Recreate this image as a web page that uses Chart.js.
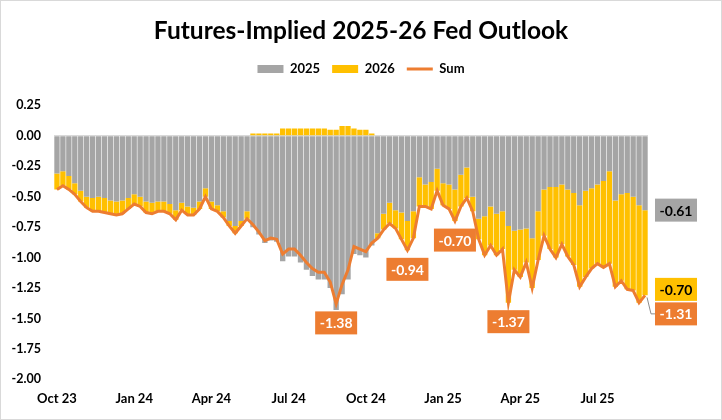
<!DOCTYPE html>
<html>
<head>
<meta charset="utf-8">
<title>Futures-Implied 2025-26 Fed Outlook</title>
<script src="https://cdn.jsdelivr.net/npm/chart.js"></script>
<style>
  html, body { margin: 0; padding: 0; background: #fff; }
  #wrap { width: 722px; height: 420px; }
</style>
</head>
<body>
<div id="wrap"><canvas id="fedChart"></canvas></div>
<script>
// weekly readings, first week = Mon 2 Oct 2023
const startWeek = '2023-10-02';
const tickLabels = ['Oct 23', 'Jan 24', 'Apr 24', 'Jul 24', 'Oct 24', 'Jan 25', 'Apr 25', 'Jul 25'];

// implied cuts priced for 2025 (pct pts)
const cuts2025 = [
  -0.31, -0.29, -0.33, -0.39, -0.45, -0.50, -0.51, -0.50, -0.51, -0.53,
  -0.54, -0.53, -0.51, -0.48, -0.50, -0.54, -0.55, -0.54, -0.54, -0.56,
  -0.61, -0.55, -0.58, -0.59, -0.54, -0.43, -0.54, -0.57, -0.62, -0.70,
  -0.74, -0.70, -0.62, -0.75, -0.81, -0.88, -0.86, -0.87, -1.03, -0.99,
  -0.99, -1.04, -1.10, -1.15, -1.18, -1.18, -1.25, -1.43, -1.30, -1.18,
  -0.97, -0.98, -1.00, -0.90, -0.80, -0.64, -0.55, -0.61, -0.63, -0.70,
  -0.62, -0.34, -0.40, -0.38, -0.27, -0.39, -0.40, -0.44, -0.32, -0.26,
  -0.50, -0.68, -0.66, -0.58, -0.64, -0.62, -0.74, -0.78, -0.77, -0.76,
  -0.84, -0.62, -0.44, -0.42, -0.42, -0.40, -0.44, -0.47, -0.57, -0.45,
  -0.43, -0.40, -0.37, -0.29, -0.53, -0.48, -0.47, -0.50, -0.57, -0.61
];

// implied cuts priced for 2026
const cuts2026 = [
  -0.13, -0.12, -0.11, -0.09, -0.09, -0.09, -0.11, -0.12, -0.12, -0.11,
  -0.11, -0.11, -0.09, -0.08, -0.08, -0.09, -0.09, -0.08, -0.08, -0.08,
  -0.08, -0.06, -0.07, -0.06, -0.06, -0.07, -0.06, -0.05, -0.05, -0.04,
  -0.06, -0.04, -0.06,  0.02,  0.02,  0.02,  0.02,  0.02,  0.06,  0.06,
   0.06,  0.06,  0.06,  0.06,  0.06,  0.06,  0.05,  0.05,  0.08,  0.08,
   0.06,  0.05,  0.05,  0.02, -0.04, -0.13, -0.17, -0.15, -0.22, -0.24,
  -0.22, -0.24, -0.18, -0.22, -0.18, -0.18, -0.20, -0.26, -0.26, -0.25,
  -0.12, -0.17, -0.32, -0.32, -0.34, -0.31, -0.63, -0.32, -0.39, -0.28,
  -0.41, -0.40, -0.38, -0.51, -0.58, -0.49, -0.55, -0.59, -0.67, -0.71,
  -0.66, -0.65, -0.71, -0.76, -0.71, -0.71, -0.79, -0.77, -0.80, -0.70
];

// sum of the two years
const sum = cuts2025.map((v, i) => +(v + cuts2026[i]).toFixed(2));

// weeks that get an orange callout under the line
const calloutWeeks = [47, 59, 67, 76];

const GRAY = '#A5A5A5';
const GOLD = '#FFC000';
const ORANGE = '#ED7D31';

const MONTHS = ['Jan', 'Feb', 'Mar', 'Apr', 'May', 'Jun', 'Jul', 'Aug', 'Sep', 'Oct', 'Nov', 'Dec'];
const t0 = Date.parse(startWeek + 'T00:00:00Z');
const DAY = 86400000;
const weeks = cuts2025.map((_, i) => new Date(t0 + i * 7 * DAY).toISOString().slice(0, 10));

// label a week if a quarter start falls within it
function quarterLabel(i) {
  const d = new Date(t0 + i * 7 * DAY);
  for (let k = -3; k <= 3; k++) {
    const q = new Date(d.getTime() + k * DAY);
    if (q.getUTCDate() === 1 && q.getUTCMonth() % 3 === 0) {
      const txt = MONTHS[q.getUTCMonth()] + ' ' + String(q.getUTCFullYear()).slice(2);
      return tickLabels.includes(txt) ? txt : '';
    }
  }
  return '';
}

const frame = {
  id: 'frame',
  beforeDraw(chart) {
    const ctx = chart.ctx;
    ctx.save();
    ctx.fillStyle = '#fff';
    ctx.fillRect(0, 0, chart.width, chart.height);
    ctx.strokeStyle = '#d9d9d9';
    ctx.lineWidth = 1;
    ctx.strokeRect(0.5, 0.5, chart.width - 1, chart.height - 1);
    ctx.restore();
  }
};

// extra room between the legend and the plot
const legendGap = {
  id: 'legendGap',
  beforeInit(chart) {
    const fit = chart.legend.fit;
    chart.legend.fit = function () {
      fit.call(this);
      this.height += 20;
    };
  }
};

const callouts = {
  id: 'callouts',
  afterDatasetsDraw(chart) {
    const {ctx, chartArea, scales: {y}} = chart;
    const pts = chart.getDatasetMeta(2).data;
    ctx.save();
    ctx.font = 'bold 14px Lato';
    ctx.textAlign = 'center';
    ctx.textBaseline = 'middle';
    const box = (cx, cy, fill, color, text) => {
      ctx.fillStyle = fill;
      ctx.fillRect(cx - 21, cy - 11.5, 42, 23);
      ctx.fillStyle = color;
      ctx.fillText(text, cx, cy + 1);
    };
    calloutWeeks.forEach(i => {
      box(pts[i].x, pts[i].y + 19, ORANGE, '#fff', sum[i].toFixed(2));
    });
    const last = sum.length - 1;
    const lx = chartArea.right + 28;
    const sy = pts[last].y;
    ctx.strokeStyle = '#8c8c8c';
    ctx.lineWidth = 1;
    ctx.beginPath();
    ctx.moveTo(pts[last].x + 2, sy + 2);
    ctx.lineTo(chartArea.right + 3, sy + 18.5);
    ctx.lineTo(lx - 21, sy + 18.5);
    ctx.stroke();
    box(lx, y.getPixelForValue(cuts2025[last]), GRAY, '#000', cuts2025[last].toFixed(2));
    box(lx, sy - 6, GOLD, '#000', cuts2026[last].toFixed(2));
    box(lx, sy + 18.5, ORANGE, '#fff', sum[last].toFixed(2));
    ctx.restore();
  }
};

Chart.defaults.font.family = 'Lato';
Chart.defaults.color = '#000';

new Chart(document.getElementById('fedChart'), {
  type: 'bar',
  data: {
    labels: weeks,
    datasets: [
      {
        label: '2025',
        data: cuts2025,
        backgroundColor: GRAY,
        borderWidth: 0,
        pointStyle: 'rect',
        categoryPercentage: 0.9,
        barPercentage: 1,
        order: 1
      },
      {
        label: '2026',
        data: cuts2026,
        backgroundColor: GOLD,
        borderWidth: 0,
        pointStyle: 'rect',
        categoryPercentage: 0.9,
        barPercentage: 1,
        order: 1
      },
      {
        type: 'line',
        label: 'Sum',
        data: sum,
        stack: 'sum',
        borderColor: ORANGE,
        backgroundColor: ORANGE,
        borderWidth: 3,
        pointRadius: 0,
        pointStyle: 'line',
        tension: 0,
        order: 0
      }
    ]
  },
  options: {
    responsive: true,
    maintainAspectRatio: false,
    animation: false,
    layout: { padding: { left: 0, right: 0, top: 0, bottom: 1 } },
    plugins: {
      title: {
        display: true,
        text: 'Futures-Implied 2025-26 Fed Outlook',
        font: { size: 24.5, weight: 'bold' },
        color: '#000',
        padding: { top: 16, bottom: 5 }
      },
      legend: {
        labels: {
          usePointStyle: true,
          pointStyleWidth: 26,
          boxHeight: 8,
          padding: 12,
          font: { size: 13, weight: 'bold' },
          sort: (a, b) => a.datasetIndex - b.datasetIndex
        }
      },
      tooltip: { enabled: false }
    },
    scales: {
      x: {
        stacked: true,
        grid: { display: false, drawTicks: false },
        border: { display: false },
        ticks: {
          autoSkip: false,
          maxRotation: 0,
          padding: 12,
          font: { size: 13, weight: 'bold' },
          callback: (v, i) => quarterLabel(i)
        }
      },
      y: {
        stacked: true,
        min: -2,
        max: 0.25,
        afterFit: s => { s.width = 54; },
        grid: {
          drawTicks: false,
          color: c => (c.tick && c.tick.value === 0 ? '#d9d9d9' : 'rgba(0,0,0,0)')
        },
        border: { display: false },
        ticks: {
          stepSize: 0.25,
          padding: 13,
          font: { size: 12.5, weight: 'bold' },
          callback: v => v.toFixed(2)
        }
      },
      // empty right-hand strip that holds the end-of-series labels
      side: {
        type: 'linear',
        position: 'right',
        afterFit: s => { s.width = 74; },
        grid: { display: false, drawTicks: false },
        border: { display: false },
        ticks: { display: false }
      }
    }
  },
  plugins: [frame, legendGap, callouts]
});
</script>
</body>
</html>
